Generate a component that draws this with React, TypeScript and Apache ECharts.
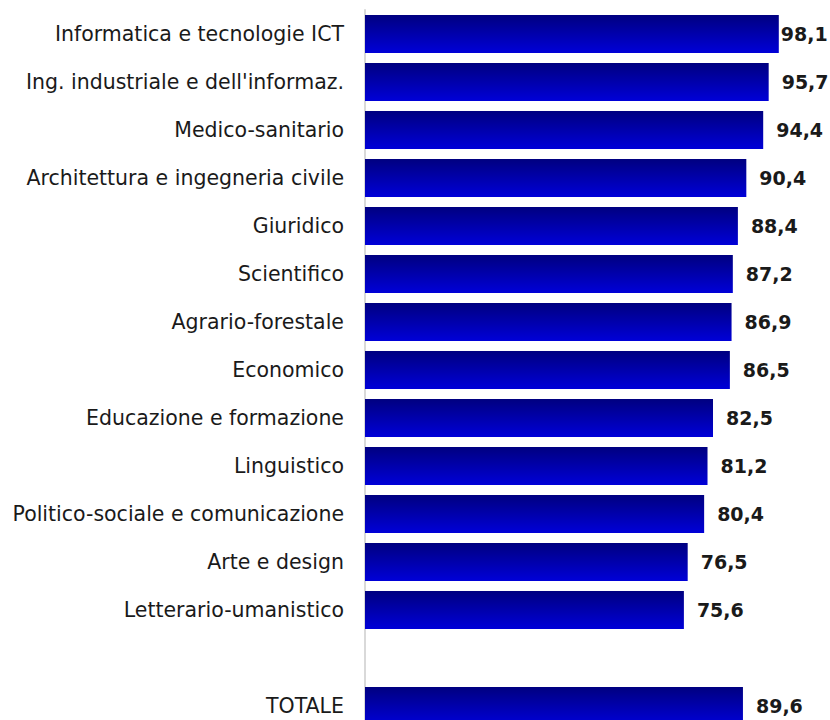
import React, { useEffect, useRef } from "react";
import * as echarts from "echarts";

const categories = [
  "Informatica e tecnologie ICT",
  "Ing. industriale e dell'informaz.",
  "Medico-sanitario",
  "Architettura e ingegneria civile",
  "Giuridico",
  "Scientifico",
  "Agrario-forestale",
  "Economico",
  "Educazione e formazione",
  "Linguistico",
  "Politico-sociale e comunicazione",
  "Arte e design",
  "Letterario-umanistico",
  "",
  "TOTALE",
];

const values: (number | null)[] = [
  98.1, 95.7, 94.4, 90.4, 88.4, 87.2, 86.9, 86.5, 82.5, 81.2, 80.4, 76.5, 75.6, null, 89.6,
];

const FONT = "DejaVu Sans";

export default function App() {
  const ref = useRef<HTMLDivElement>(null);
  useEffect(() => {
    document.documentElement.style.overflow = "hidden";
    document.body.style.overflow = "hidden";
    if (!ref.current) return;
    const chart = echarts.init(ref.current, null, { renderer: "svg" });
    const data = values.map((v, i) =>
      v === null
        ? "-"
        : i === 0
        ? { value: v, label: { distance: 2 } }
        : { value: v }
    );
    chart.setOption({
      animation: false,
      grid: { left: 365, right: 1, top: 10, bottom: 0, containLabel: false },
      xAxis: {
        type: "value",
        min: 0,
        max: 110,
        show: false,
      },
      yAxis: {
        type: "category",
        inverse: true,
        data: categories,
        axisLine: { show: true, lineStyle: { color: "#d9d9d9", width: 2 } },
        axisTick: { show: false },
        axisLabel: {
          margin: 21,
          fontFamily: FONT,
          fontSize: 20.5,
          color: "#1a1a1a",
        },
      },
      series: [
        {
          type: "bar",
          data,
          barWidth: 38,
          itemStyle: {
            color: new echarts.graphic.LinearGradient(0, 0, 0, 1, [
              { offset: 0, color: "#000080" },
              { offset: 1, color: "#0000D8" },
            ]),
          },
          label: {
            show: true,
            position: "right",
            distance: 13,
            fontFamily: FONT,
            fontSize: 19,
            fontWeight: "bold",
            color: "#1a1a1a",
            formatter: (p: any) => Number(p.value).toFixed(1).replace(".", ","),
          },
        },
      ],
    });
    return () => chart.dispose();
  }, []);
  return (
    <div
      ref={ref}
      style={{ position: "absolute", left: 0, top: 0, width: 830, height: 730 }}
    />
  );
}
